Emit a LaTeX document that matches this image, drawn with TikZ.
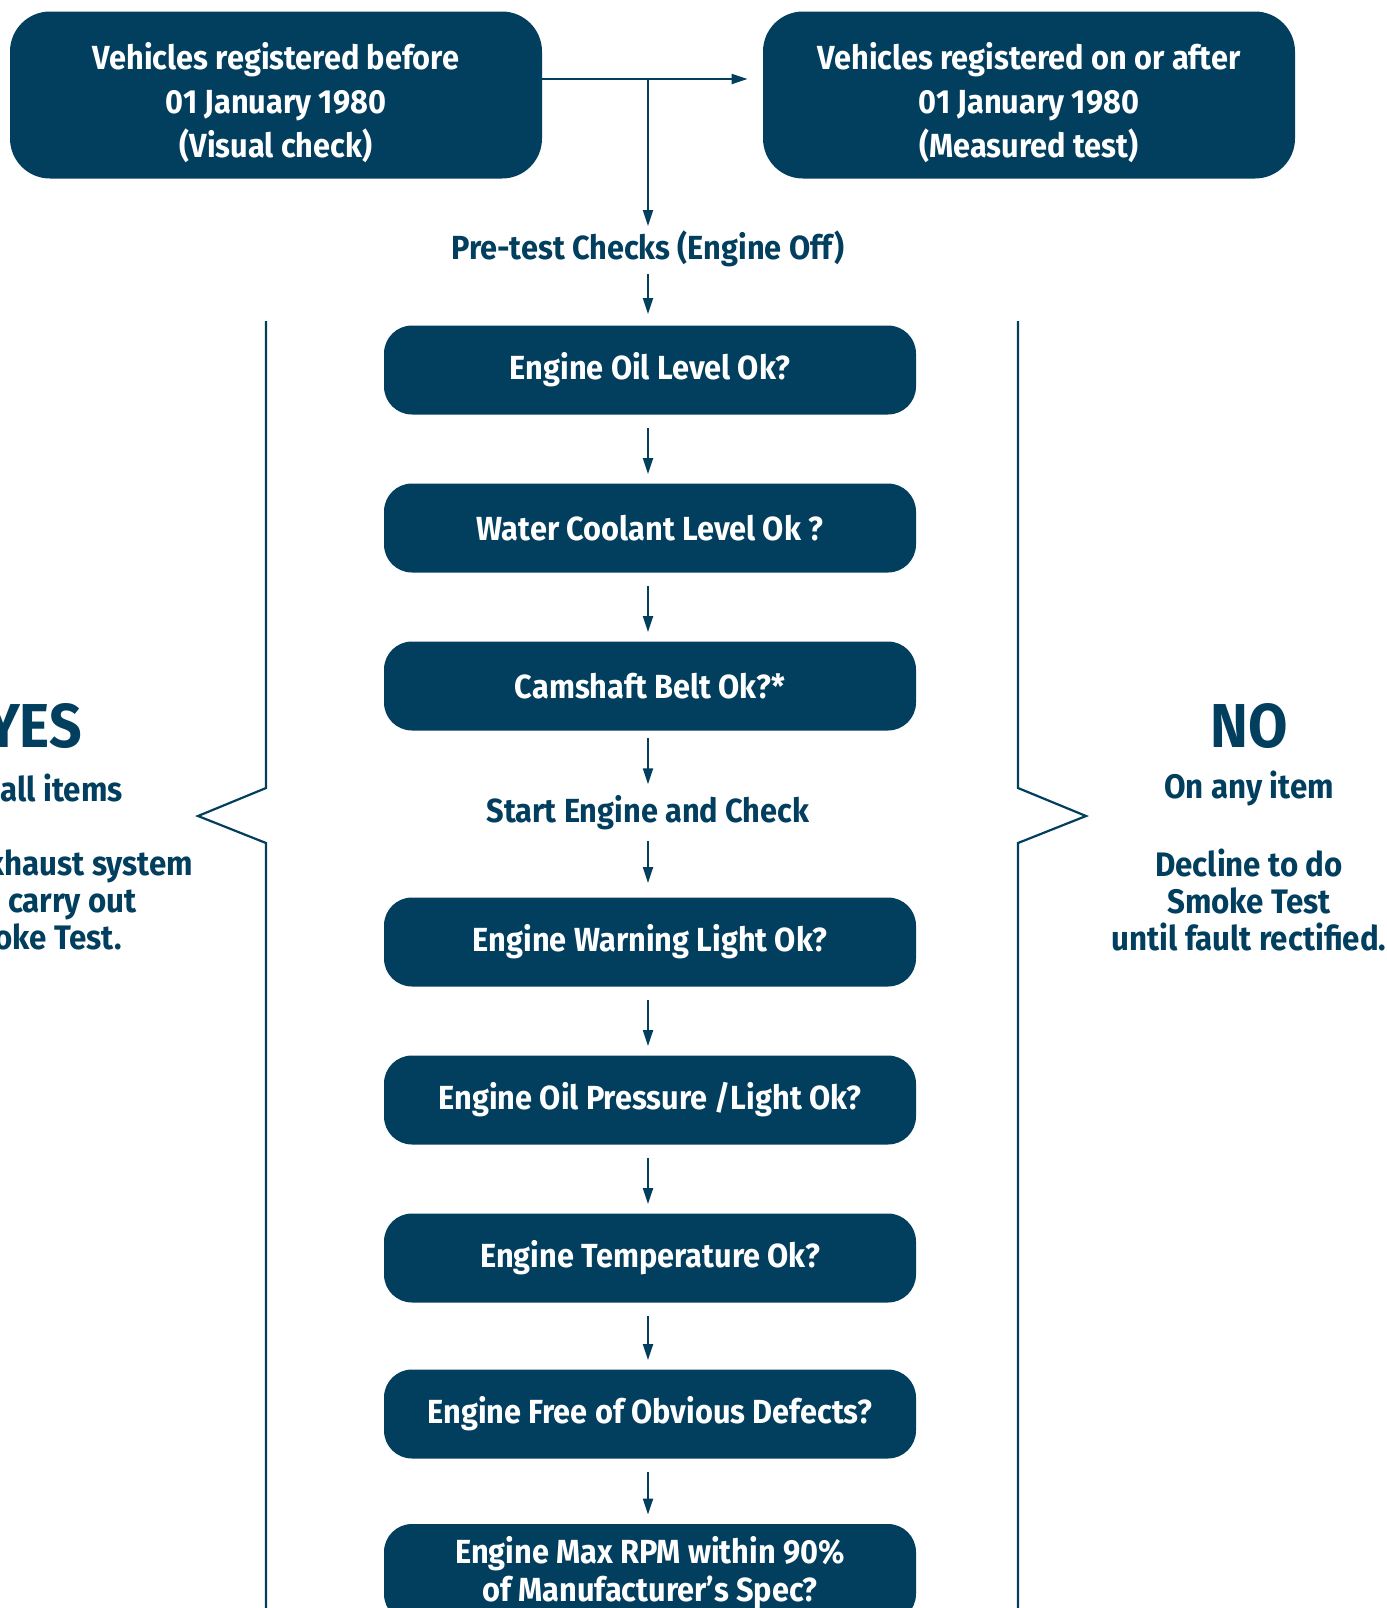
\documentclass[tikz,border=0pt]{standalone}
\usepackage{fontspec}
\setmainfont{Fira Sans}[FakeStretch=0.92]
\usetikzlibrary{arrows.meta}
\definecolor{nctblue}{HTML}{023E5E}

\begin{document}
\begin{tikzpicture}[x=0.5pt,y=-0.5pt,
    every node/.style={font=\bfseries\fontsize{16.7}{22}\selectfont},
    topbox/.style={fill=nctblue,text=white,rounded corners=20pt,minimum width=266pt,minimum height=83.5pt,align=center,inner sep=0pt},
    checkbox/.style={fill=nctblue,text=white,rounded corners=14pt,minimum width=266pt,minimum height=44.5pt,align=center,inner sep=0pt},
    steptext/.style={text=nctblue,inner sep=0pt},
    sidetext/.style={text=nctblue,align=center,inner sep=0pt,font=\bfseries\fontsize{17}{18.5}\selectfont},
    bigword/.style={text=nctblue,inner sep=0pt,font=\bfseries\fontsize{31}{31}\selectfont},
    arr/.style={draw=nctblue,line width=1pt,-{Triangle[width=5pt,length=8pt]}},
    brace/.style={draw=nctblue,line width=1.1pt}]
    \useasboundingbox (0,0) rectangle (1387,1608);
    \clip (0,0) rectangle (1387,1608);
    % Two starting boxes
    \node[topbox] (before) at (276,95) {\rule{0pt}{21pt}Vehicles registered before\\01 January 1980\\(Visual check)};
    \node[topbox] (after) at (1029,95) {\rule{0pt}{21pt}Vehicles registered on or after\\01 January 1980\\(Measured test)};
    \coordinate (split) at (648,79);
    \node[steptext] (pretest) at (648,249) {Pre-test Checks (Engine Off)};
    \draw[draw=nctblue,line width=1pt] (before.east |- split) -- (split);
    \draw[arr,shorten >=7.5pt] (split) -- (after.west |- split);
    \draw[arr,shorten >=2.25pt] (split) -- (split |- pretest.north);
    % Checks with engine off
    \node[checkbox] (oil) at (650,370) {Engine Oil Level Ok?};
    \node[checkbox] (coolant) at (650,528) {Water Coolant Level Ok ?};
    \node[checkbox] (belt) at (650,686) {Camshaft Belt Ok?*};
    \node[steptext] (start) at (648,813) {Start Engine and Check};
    % Checks with engine running
    \node[checkbox] (warning) at (650,942) {Engine Warning Light Ok?};
    \node[checkbox] (pressure) at (650,1100) {Engine Oil Pressure /Light Ok?};
    \node[checkbox] (temp) at (650,1258) {Engine Temperature Ok?};
    \node[checkbox] (defects) at (650,1414) {Engine Free of Obvious Defects?};
    \node[checkbox,minimum height=49pt,font=\bfseries\fontsize{16.7}{19}\selectfont] (rpm) at (650,1573) {Engine Max RPM within 90\%\\of Manufacturer’s Spec?};
    \draw[arr,shorten <=3.25pt,shorten >=5.5pt] (pretest.south) -- (pretest.south |- oil.north);
    \foreach \a/\b in {oil/coolant,coolant/belt,warning/pressure,pressure/temp,temp/defects,defects/rpm}
        \draw[arr,shorten <=6.5pt,shorten >=4.5pt] (\a.south -| split) -- (\b.north -| split);
    \draw[arr,shorten <=3.5pt,shorten >=5.5pt] (belt.south -| split) -- (split |- start.north);
    \draw[arr,shorten <=5.25pt,shorten >=7pt] (split |- start.south) -- (warning.north -| split);
    % Side brackets
    \draw[brace] (266,321) -- (266,788) -- (198,816) -- (266,843) -- (266,1620);
    \draw[brace] (1018,321) -- (1018,788) -- (1086,816) -- (1018,843) -- (1018,1620);
    % YES side
    \node[bigword] (yes) at (34,726) {YES};
    \node[sidetext] (yesall) at (38,788) {On all items};
    \node[sidetext] (yesnote) at (36,900) {Check exhaust system\\then carry out\\Smoke Test.};
    % NO side
    \node[bigword] (no) at (1249,726) {NO};
    \node[sidetext] (noany) at (1249,788) {On any item};
    \node[sidetext] (nonote) at (1249,900) {Decline to do\\Smoke Test\\until fault rectified.};
\end{tikzpicture}
\end{document}
